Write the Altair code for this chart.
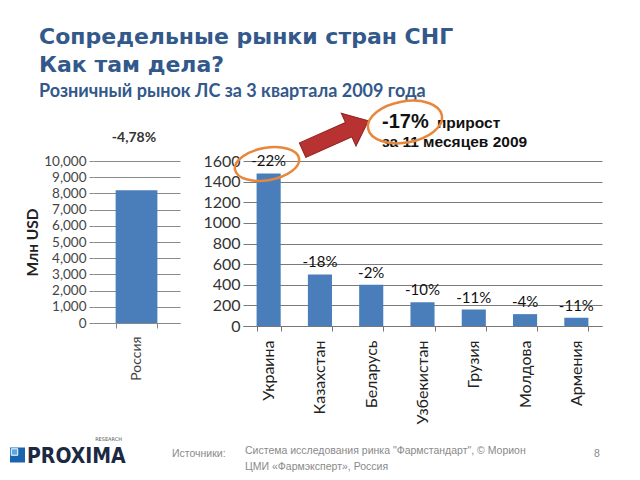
import altair as alt
import pandas as pd

# ---------------- data ----------------
russia_cat = ["Россия"]
russia_val = [8200]
russia_pct = ["-4,78%"]

cis_cat = ["Украина", "Казахстан", "Беларусь", "Узбекистан", "Грузия", "Молдова", "Армения"]
cis_val = [1480, 500, 400, 230, 160, 115, 80]
cis_pct = ["-22%", "-18%", "-2%", "-10%", "-11%", "-4%", "-11%"]

left_ticks = [0, 1000, 2000, 3000, 4000, 5000, 6000, 7000, 8000, 9000, 10000]
right_ticks = [0, 200, 400, 600, 800, 1000, 1200, 1400, 1600]

title_lines = ["Сопредельные рынки стран СНГ", "Как там дела?"]
subtitle = "Розничный рынок ЛС за 3 квартала 2009 года"
y_title = "Млн USD"
callout_big = "-17%"
callout_word = "прирост"
callout_line2 = "за 11 месяцев 2009"
sources_label = "Источники:"
sources_lines = ["Система исследования ринка \"Фармстандарт\", © Морион",
                 "ЦМИ «Фармэксперт», Россия"]
page_number = "8"
logo_text = "PROXIMA"
logo_small = "RESEARCH"

# ---------------- style ----------------
BLUE = "#4A7EBB"
TITLE_BLUE = "#32598A"
ORANGE = "#E8873C"
RED = "#B83232"
GRID = "#8A8A8A"

OX, OY = 85, 153          # left plot origin inside the 624x464 canvas
W_L, H_L = 87, 162
W_R, H_R = 359, 165
SPACING = 63


def txt(s, x, y, **kw):
    return alt.Chart(alt.Data(values=[{"t": s}])).mark_text(**kw).encode(
        x=alt.value(x), y=alt.value(y), text="t:N")


def shape_at(path, x, y, **kw):
    return alt.Chart(alt.Data(values=[{"k": 1}])).mark_point(shape=path, **kw).encode(
        x=alt.value(x), y=alt.value(y))


ARROW = "M -1 -0.22 L 0.4 -0.22 L 0.4 -0.5 L 1 0 L 0.4 0.5 L 0.4 0.22 L -1 0.22 Z"
ELL_A = "M -1 0 A 1 0.55 0 1 1 1 0 A 1 0.55 0 1 1 -1 0 Z"
ELL_B = "M -1 0 A 1 0.5 0 1 1 1 0 A 1 0.5 0 1 1 -1 0 Z"

# ---------------- left panel (Russia) ----------------
df_r = pd.DataFrame({"country": russia_cat, "value": russia_val, "pct": russia_pct})

left_base = alt.Chart(df_r).encode(
    x=alt.X("country:N", sort=russia_cat,
            scale=alt.Scale(paddingInner=0.52, paddingOuter=0.26),
            axis=alt.Axis(title=None, labelAngle=270, labelAlign="right",
                          labelBaseline="middle", labelFont="Lato", labelFontSize=14,
                          labelColor="#444", labelPadding=8, tickBand="extent",
                          domainColor="#888", tickColor="#888", tickSize=5)),
    y=alt.Y("value:Q", scale=alt.Scale(domain=[0, 10000], nice=False),
            axis=alt.Axis(values=left_ticks, format=",.0f", title=y_title,
                          titleFont="Lato", titleFontSize=15.5, titleFontWeight="bold",
                          titleColor="#222", titlePadding=3,
                          labelFont="Lato", labelFontSize=13.5, labelColor="#444",
                          labelPadding=3, tickSize=4, tickColor="#888", domain=False,
                          gridColor=GRID)),
)

bg = alt.Chart(alt.Data(values=[{"k": 1}])).mark_rect(opacity=0).encode(
    x=alt.value(-OX), x2=alt.value(624 - OX), y=alt.value(-OY), y2=alt.value(464 - OY))

left_bars = left_base.mark_bar(color=BLUE)

left_layers = [
    bg,
    left_bars,
    txt(russia_pct[0], 41, -23, font="Lato", fontSize=14, fontWeight="bold",
        color="#333", baseline="middle", align="center"),
    txt(title_lines[0], -54, -117, font="DejaVu Sans", fontSize=22, fontWeight="bold",
        color=TITLE_BLUE, align="left", baseline="alphabetic"),
    txt(title_lines[1], -54, -89, font="DejaVu Sans", fontSize=22, fontWeight="bold",
        color=TITLE_BLUE, align="left", baseline="alphabetic"),
    txt(subtitle, -54, -64, font="Lato", fontSize=18, fontWeight="bold",
        color=TITLE_BLUE, align="left", baseline="alphabetic"),
    # footer
    shape_at("square", -75.5, 294, size=225, filled=True, color="#1A63AE", opacity=1),
    shape_at("square", -78.5, 291, size=42, filled=True, color="#58A8E3", opacity=1,
             stroke="white", strokeWidth=1),
    txt(logo_text, -66, 302, font="DejaVu Sans Condensed", fontSize=21, fontWeight="bold",
        color="#1C2942", align="left", baseline="alphabetic"),
    txt(logo_small, 29, 280, font="DejaVu Sans", fontSize=5, color="#555",
        align="right", baseline="alphabetic"),
    txt(sources_label, 79, 293, font="Liberation Sans", fontSize=10.5, color="#8A8A8A",
        align="left", baseline="middle"),
    txt(sources_lines[0], 152, 290, font="Liberation Sans", fontSize=10.5, color="#8A8A8A",
        align="left", baseline="middle"),
    txt(sources_lines[1], 152, 306, font="Liberation Sans", fontSize=10.5, color="#8A8A8A",
        align="left", baseline="middle"),
    txt(page_number, 504, 293, font="Liberation Sans", fontSize=10.5, color="#8A8A8A",
        align="center", baseline="middle"),
]
left = alt.layer(*left_layers).properties(width=W_L, height=H_L)

# ---------------- right panel (CIS) ----------------
df_c = pd.DataFrame({"country": cis_cat, "value": cis_val, "pct": cis_pct})

right_base = alt.Chart(df_c).encode(
    x=alt.X("country:N", sort=cis_cat,
            scale=alt.Scale(paddingInner=0.53, paddingOuter=0.265),
            axis=alt.Axis(title=None, labelAngle=270, labelAlign="right",
                          labelBaseline="middle", labelFont="Lato", labelFontSize=16,
                          labelColor="#222", labelPadding=9, tickBand="extent",
                          domainColor="#777", tickColor="#777", tickSize=5)),
    y=alt.Y("value:Q", scale=alt.Scale(domain=[0, 1600], nice=False),
            axis=alt.Axis(values=right_ticks, format="d", title=None, labelFont="Lato",
                          labelFontSize=16, labelColor="#333", labelPadding=3,
                          ticks=False, domain=False, gridColor="#7A7A7A")),
)

right_bars = right_base.mark_bar(color=BLUE)
right_labels = right_base.mark_text(dy=-4, baseline="bottom", font="Lato", fontSize=15,
                                    color="#111").encode(text="pct:N")

right_layers = [
    right_bars,
    right_labels,
    txt(callout_big, 139, -33, font="Liberation Sans", fontSize=20, fontWeight="bold",
        color="#111", align="left", baseline="alphabetic"),
    txt(callout_word, 194, -33, font="Liberation Sans", fontSize=15.5, fontWeight="bold",
        color="#111", align="left", baseline="alphabetic"),
    txt(callout_line2, 139, -14, font="Liberation Sans", fontSize=15.5, fontWeight="bold",
        color="#111", align="left", baseline="alphabetic"),
    shape_at(ARROW, 92.5, -25.5, size=5184, angle=336, filled=True, color=RED,
             opacity=1, stroke="#8E1F1F", strokeWidth=1),
    shape_at(ELL_A, 162, -39, size=5625, angle=350, filled=False, color=ORANGE,
             strokeWidth=2.5, opacity=1),
    shape_at(ELL_B, 24, 3, size=4225, angle=350, filled=False, color=ORANGE,
             strokeWidth=2.5, opacity=1),
]
right = alt.layer(*right_layers).properties(width=W_R, height=H_R)

chart = alt.hconcat(left, right, spacing=SPACING, bounds="flush").properties(
    padding=0
).configure_view(stroke=None)

chart.save("out.html", embed_options={"renderer": "svg", "actions": False})
